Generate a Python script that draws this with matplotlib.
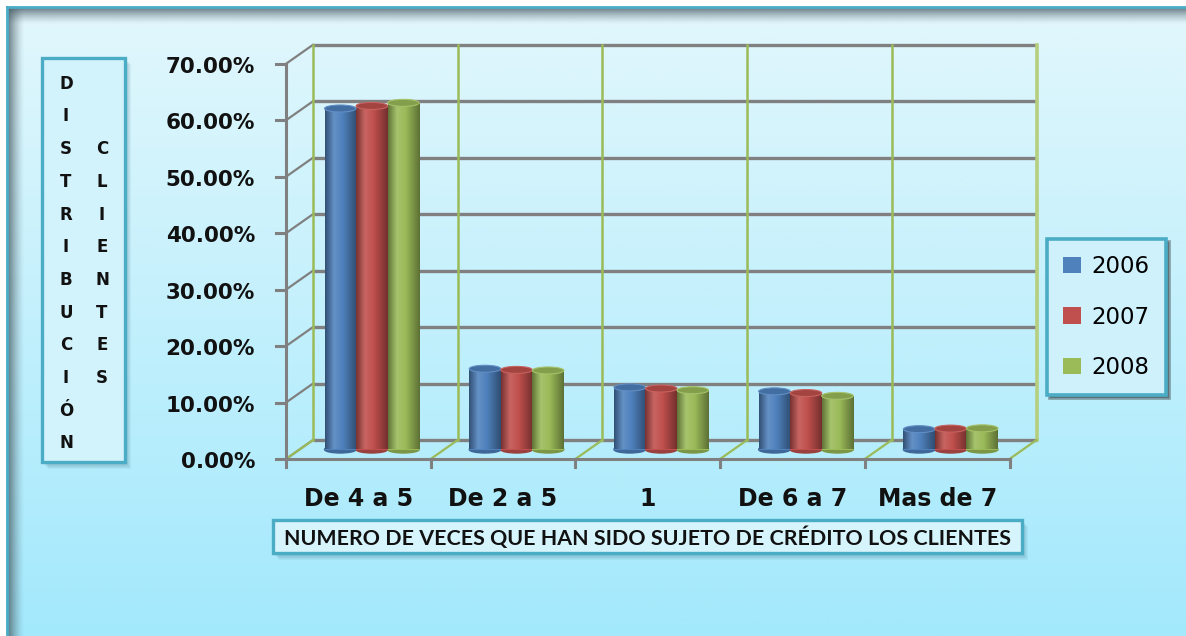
import numpy as np
import matplotlib
matplotlib.use("Agg")
import matplotlib.pyplot as plt
from matplotlib.patches import Rectangle, Ellipse, Patch
from matplotlib.colors import LinearSegmentedColormap, to_rgb

# ---------------- data ----------------
categories = ["De 4 a 5", "De 2 a 5", "1", "De 6 a 7", "Mas de 7"]
years = ["2006", "2007", "2008"]
values_2006 = [60.4, 14.3, 11.0, 10.3, 3.6]
values_2007 = [60.85, 14.1, 10.8, 10.0, 3.7]
values_2008 = [61.4, 14.0, 10.5, 9.5, 3.75]
y_ticks = [0, 10, 20, 30, 40, 50, 60, 70]
y_tick_labels = ["0.00%", "10.00%", "20.00%", "30.00%", "40.00%", "50.00%", "60.00%", "70.00%"]
x_title = "NUMERO DE VECES QUE HAN SIDO SUJETO DE CRÉDITO LOS CLIENTES"
y_title_left = "DISTRIBUCIÓN"
y_title_right = "CLIENTES"

plt.rcParams["font.family"] = ["DejaVu Sans"]

W, H, DPI = 1186, 636, 100
fig = plt.figure(figsize=(W / DPI, H / DPI), dpi=DPI)
fig.patch.set_facecolor("white")

TEAL = "#4bacc6"


def fx(px):
    return px / W


def fy(py):
    return 1 - py / H


def shade(c, f):
    r = np.array(to_rgb(c))
    if f < 1:
        return tuple(r * f)
    return tuple(r + (1 - r) * (f - 1))


# ---------------- background (pixel coordinates) ----------------
bg = fig.add_axes([0, 0, 1, 1], zorder=-10)
bg.set_xlim(0, W)
bg.set_ylim(H, 0)
bg.axis("off")
cmap_bg = LinearSegmentedColormap.from_list("bg", ["#e2f7fc", "#a3e9fc"])
bg.imshow(np.linspace(0, 1, 256)[:, None], extent=[6, W, H, 6], cmap=cmap_bg,
          aspect="auto", zorder=0)
bg.set_xlim(0, W)
bg.set_ylim(H, 0)
# outer frame with inner shadow
for k in range(16):
    a = 0.75 * (1 - k / 16) ** 1.4
    bg.add_patch(Rectangle((8, 8 + k), W, 1, color="#4a5c64", alpha=a, lw=0, zorder=1))
    bg.add_patch(Rectangle((8 + k, 8), 1, H, color="#4a5c64", alpha=a, lw=0, zorder=1))
bg.plot([7, W], [6.5, 6.5], color=TEAL, lw=2, zorder=2)
bg.plot([7, 7], [6.5, H], color=TEAL, lw=2, zorder=2)

# y title box
for k in range(5):
    bg.add_patch(Rectangle((44 + k, 60 + k), 83, 405, color="#3a6f80", alpha=0.07, lw=0, zorder=2))
bg.add_patch(Rectangle((42, 57.5), 83, 404, facecolor="#d3f3fc", edgecolor=TEAL, lw=2.4, zorder=3))
row0, drow = 81.7, 32.7
for k, ch in enumerate(y_title_left):
    bg.text(66, row0 + k * drow, ch, ha="center", va="center_baseline", fontsize=12,
            fontweight="bold", color="#111111", zorder=4)
for k, ch in enumerate(y_title_right):
    bg.text(102, row0 + (k + 2) * drow, ch, ha="center", va="center_baseline", fontsize=12,
            fontweight="bold", color="#111111", zorder=4)

# x title box
for k in range(5):
    bg.add_patch(Rectangle((275 + k, 522 + k), 749, 34, color="#3a6f80", alpha=0.07, lw=0, zorder=2))
bg.add_patch(Rectangle((273, 519.5), 749, 33, facecolor="#d6f4fc", edgecolor=TEAL, lw=2.4, zorder=3))
xt = bg.text(647.5, 536, x_title, ha="center", va="center_baseline", fontsize=14,
             fontweight="bold", family=["Lato", "DejaVu Sans"], color="#111111", zorder=4)
# fit title width to the box text width
r = fig.canvas.get_renderer()
wpx = xt.get_window_extent(r).width
xt.set_fontsize(14 * 727 / wpx)

# ---------------- main plot (mid-depth plane) ----------------
XL, XR, Y0, Y70 = 299.5, 1023.0, 449.5, 54.3
ax = fig.add_axes([fx(XL), fy(Y0), (XR - XL) / W, (Y0 - Y70) / H], zorder=1)
ax.patch.set_alpha(0)
for s in ax.spines.values():
    s.set_visible(False)
ax.set_xticks([])
ax.set_yticks([])

ppx = (XR - XL) / 5.0
ppy = (Y0 - Y70) / 70.0
DX = 13.5 / ppx
DY = 9.5 / ppy
GRAY = "#808080"
GREEN = "#9bbb59"
n = len(categories)
bounds = np.arange(n + 1) - 0.5

# back wall
for v in y_ticks:
    ax.plot([-0.5 + DX, n - 0.5 + DX], [v + DY, v + DY], color=GRAY, lw=2.4,
            clip_on=False, zorder=1, solid_capstyle="butt")
    # side wall diagonal
    ax.plot([-0.5 - DX, -0.5 + DX], [v - DY, v + DY], color=GRAY, lw=1.6,
            clip_on=False, zorder=1)
for b in bounds:
    lw = 2.6 if b == bounds[-1] else 1.8
    col = "#b5cf7e" if b == bounds[-1] else GREEN
    ax.plot([b + DX, b + DX], [DY, 70 + DY], color=col, lw=lw, clip_on=False, zorder=1.2)
    # floor diagonals
    ax.plot([b - DX, b + DX], [-DY, DY], color=GREEN, lw=1.6, clip_on=False, zorder=1.2)

# front axes
ax.plot([-0.5 - DX, -0.5 - DX], [-DY, 70 - DY], color=GRAY, lw=2.2, clip_on=False, zorder=2)
ax.plot([-0.5 - DX, n - 0.5 - DX], [-DY, -DY], color=GRAY, lw=2.2, clip_on=False, zorder=2)
for v, lab in zip(y_ticks, y_tick_labels):
    ax.plot([-0.5 - DX - 10 / ppx, -0.5 - DX], [v - DY, v - DY], color=GRAY, lw=2.2,
            clip_on=False, zorder=2)
    ax.text(-0.5 - DX - 31 / ppx, v - DY - 1 / ppy, lab, ha="right", va="center_baseline",
            fontsize=15.5, fontweight="bold", color="#111111", clip_on=False)
for b in bounds:
    ax.plot([b - DX, b - DX], [-DY, -DY - 8 / ppy], color=GRAY, lw=2.2, clip_on=False, zorder=2)
for i, cat in enumerate(categories):
    ax.text(i - DX, -DY - 37 / ppy, cat, ha="center", va="center_baseline", fontsize=17,
            fontweight="bold", color="#111111", clip_on=False)

# cylinders
series = [values_2006, values_2007, values_2008]
colors = ["#4f81bd", "#c0504d", "#9bbb59"]
bw = 0.218
EH = 3.5 / ppy
x = np.arange(n)
handles = []
for j, (vals, col) in enumerate(zip(series, colors)):
    xs = x + (j - 1) * bw
    bars = ax.bar(xs, vals, width=bw, color=col, zorder=5, clip_on=False)
    cm = LinearSegmentedColormap.from_list(
        "c%d" % j,
        [(0, shade(col, 0.62)), (0.28, shade(col, 1.12)), (0.55, col), (1, shade(col, 0.6))])
    for rect, xc, v in zip(bars, xs, vals):
        ax.add_patch(Ellipse((xc, 0), bw, 2 * EH, color=shade(col, 0.8), zorder=4.9, clip_on=False))
        im = ax.imshow(np.linspace(0, 1, 100)[None, :], extent=[xc - bw / 2, xc + bw / 2, 0, v],
                       cmap=cm, aspect="auto", zorder=5.1, interpolation="bilinear")
        im.set_clip_path(rect)
        ax.add_patch(Ellipse((xc, v), bw, 2 * EH, facecolor=shade(col, 0.85),
                             edgecolor=shade(col, 1.1), lw=0.8, zorder=6, clip_on=False))
    handles.append(Patch(facecolor=col, edgecolor="none"))

ax.set_xlim(-0.5, n - 0.5)
ax.set_ylim(0, 70)

# legend
leg = fig.legend(handles, years, loc="upper left", bbox_to_anchor=(fx(1047), fy(239)),
                 borderaxespad=0, frameon=True, fancybox=False, shadow=True,
                 fontsize=16.5, handlelength=0.8, handleheight=0.75, handletextpad=0.45,
                 labelspacing=1.2, borderpad=0.7)
fr = leg.get_frame()
fr.set_edgecolor(TEAL)
fr.set_linewidth(2.6)
fr.set_facecolor("#cff1fc")

fig.savefig("out.png", dpi=DPI)
